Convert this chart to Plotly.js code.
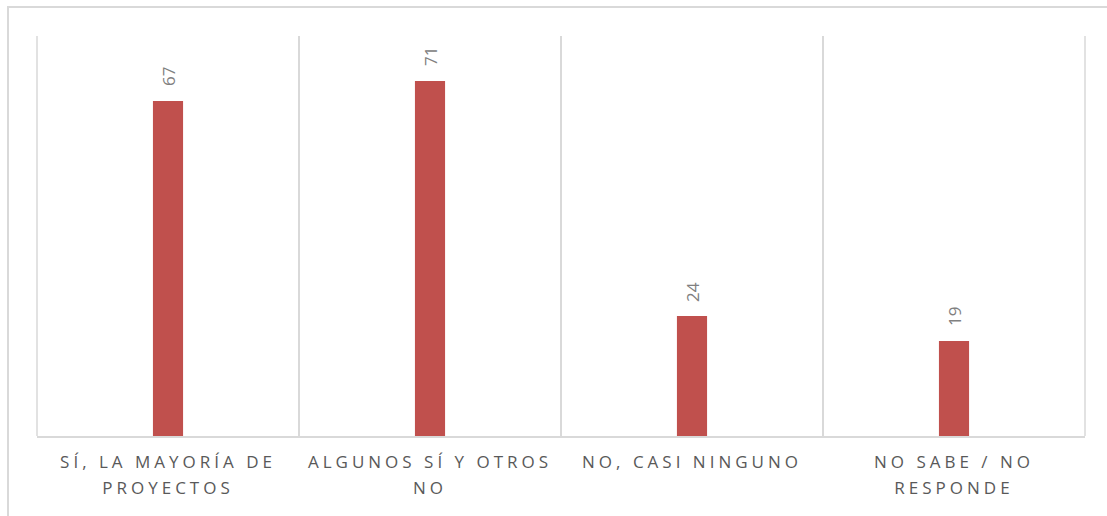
<!DOCTYPE html>
<html>
<head>
<meta charset="utf-8">
<script src="https://cdn.plot.ly/plotly-3.0.1.min.js"></script>
<style>
html,body{margin:0;padding:0;background:#fff;}
#chart{width:1107px;height:516px;}
.xtick text{letter-spacing:4px;}
</style>
</head>
<body>
<div id="chart"></div>
<script>
const categories = ["SÍ, LA MAYORÍA DE<br>PROYECTOS", "ALGUNOS SÍ Y OTROS<br>NO", "NO, CASI NINGUNO", "NO SABE / NO<br>RESPONDE"];
const values = [67, 71, 24, 19];
const labels = ["67", "71", "24", "19"];

const trace = {
  type: 'bar',
  x: categories,
  y: values,
  marker: {color: '#c0504d'},
  width: 0.115,
  hoverinfo: 'none'
};

const annotations = categories.map((c, i) => ({
  x: c, y: values[i], xref: 'x', yref: 'y',
  text: labels[i], showarrow: false,
  textangle: -90, xanchor: 'center', yanchor: 'middle', yshift: 24,
  font: {family: 'Open Sans, sans-serif', size: 17, color: '#808080'}
}));

const layout = {
  width: 1107, height: 516,
  margin: {l: 37, r: 22, t: 36, b: 80},
  paper_bgcolor: '#ffffff', plot_bgcolor: '#ffffff',
  showlegend: false,
  xaxis: {
    type: 'category',
    range: [-0.5, 3.5],
    tickson: 'boundaries',
    showgrid: true, gridcolor: '#d9d9d9', gridwidth: 1.5,
    ticks: '',
    ticklabelstandoff: 10,
    showline: true, linecolor: '#d9d9d9', linewidth: 1.5, mirror: false,
    tickfont: {family: 'Open Sans, sans-serif', size: 17, color: '#595959'},
    fixedrange: true
  },
  yaxis: {
    range: [0, 80],
    showgrid: false, zeroline: false, showticklabels: false, ticks: '',
    showline: false, fixedrange: true
  },
  annotations: annotations,
  shapes: [
    {type: 'rect', xref: 'paper', yref: 'paper',
     x0: -29/1048, x1: 1.1, y0: -0.3, y1: 1 + 29/400,
     line: {color: '#d9d9d9', width: 2}, fillcolor: 'rgba(0,0,0,0)', layer: 'below'},
    {type: 'line', xref: 'paper', yref: 'paper', x0: 0, x1: 0, y0: 0, y1: 1,
     line: {color: '#d9d9d9', width: 1.5}},
    {type: 'line', xref: 'paper', yref: 'paper', x0: 1, x1: 1, y0: 0, y1: 1,
     line: {color: '#d9d9d9', width: 1.5}}
  ]
};

Plotly.newPlot('chart', [trace], layout, {displayModeBar: false, staticPlot: true}).then(function(gd){
  gd.querySelectorAll('.xtick text tspan.line').forEach(function(t){
    var dy = parseFloat(t.getAttribute('dy'));
    if (dy > 0) t.setAttribute('dy', '26px');
  });
});
</script>
</body>
</html>
